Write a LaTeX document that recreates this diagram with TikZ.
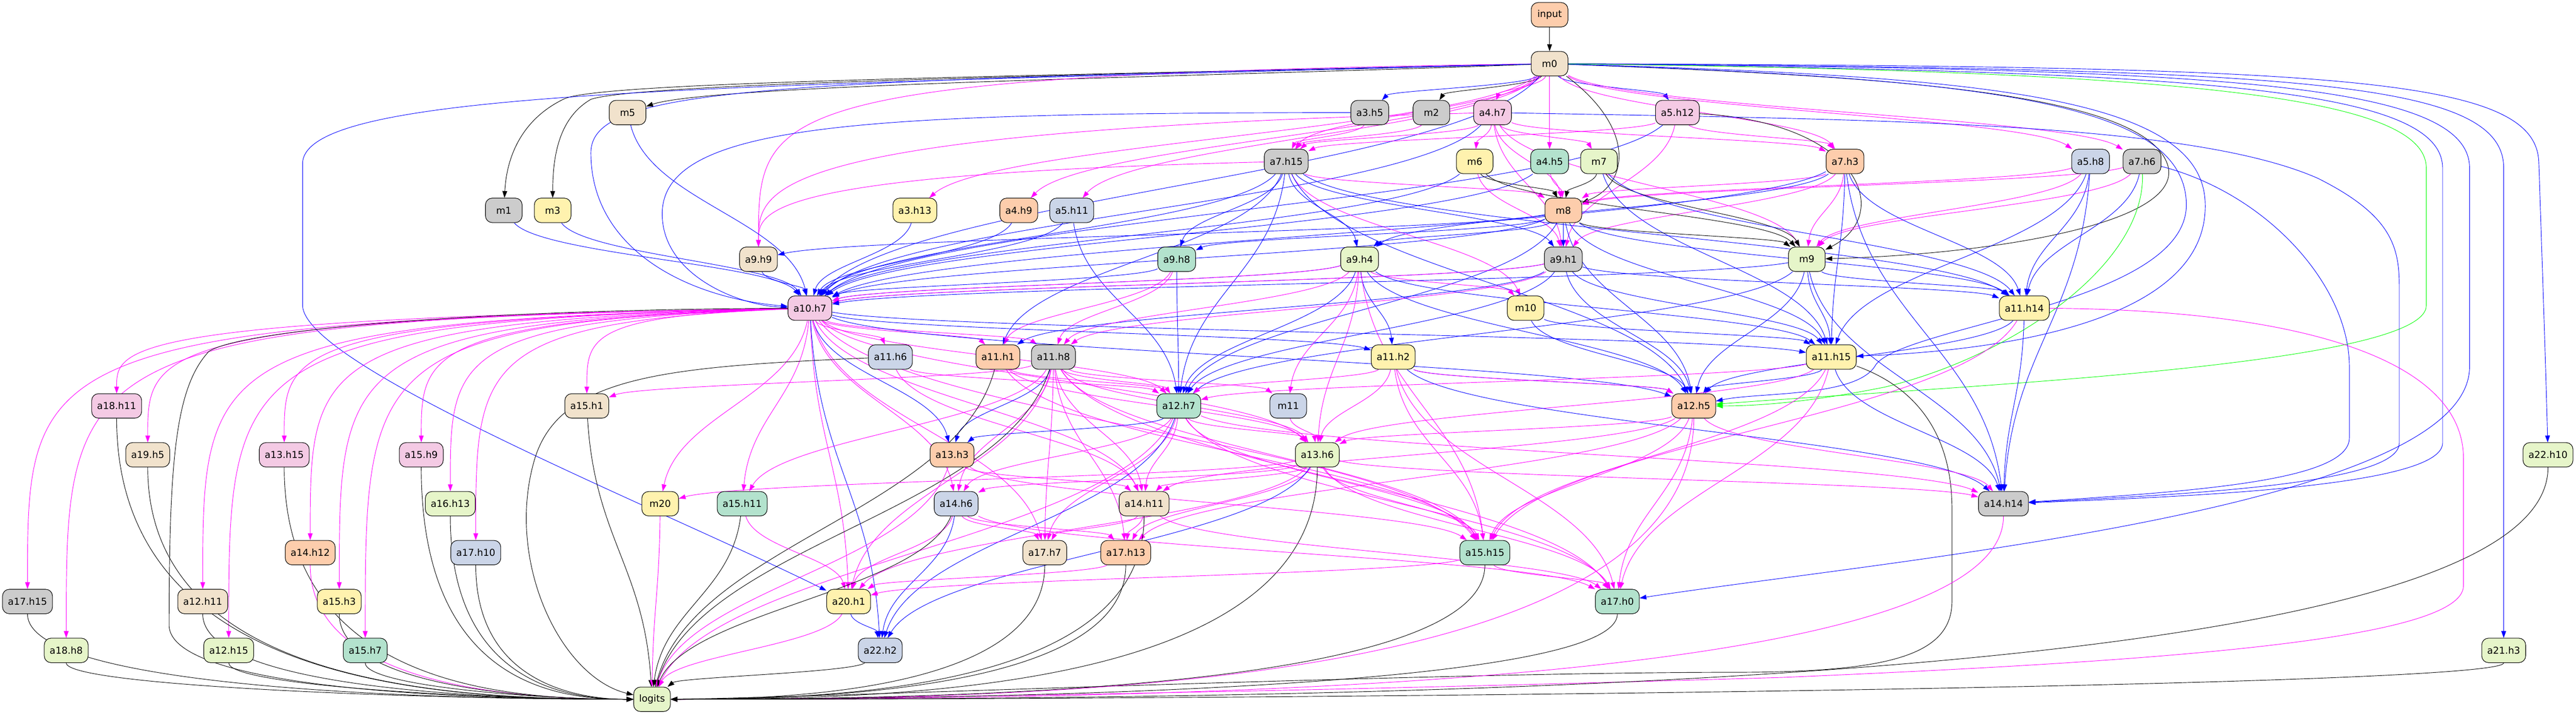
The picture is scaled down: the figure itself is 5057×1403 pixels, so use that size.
\documentclass[tikz,border=0pt]{standalone}
\usepackage{fontspec}
\setmainfont{DejaVu Sans}
\usetikzlibrary{arrows.meta,calc}
\pgfdeclarelayer{edges}
\pgfsetlayers{edges,main}
\definecolor{cA}{HTML}{B3E2CD}
\definecolor{cB}{HTML}{FDCDAC}
\definecolor{cC}{HTML}{CBD5E8}
\definecolor{cD}{HTML}{F4CAE4}
\definecolor{cE}{HTML}{E6F5C9}
\definecolor{cF}{HTML}{FFF2AE}
\definecolor{cG}{HTML}{F1E2CC}
\definecolor{cH}{HTML}{CCCCCC}
\definecolor{eblue}{HTML}{0000FF}
\definecolor{emag}{HTML}{FF00FF}
\definecolor{egreen}{HTML}{00FF00}
\tikzset{
  nd/.style={draw=black,line width=0.8pt,rounded corners=10pt,minimum width=54pt,minimum height=36pt,inner xsep=8pt,inner ysep=2pt,font=\fontsize{14}{17}\selectfont},
  ebase/.style={line width=0.7pt,-{Triangle[length=10pt,width=7pt]}},
  ek/.style={ebase,color=black},
  eb/.style={ebase,color=eblue},
  em/.style={ebase,color=emag},
  eg/.style={ebase,color=egreen}
}
\newcommand\ed[3]{\draw[#1] let \p1=(#2),\p2=(#3) in (#2) .. controls ({\x1+0.12*(\x2-\x1)},{\y1+0.45*(\y2-\y1)}) and ({\x2-0.12*(\x2-\x1)},{\y2-0.45*(\y2-\y1)}) .. (#3);}
\newcommand\edf[4]{\draw[#1] let \p1=(#2),\p2=(#3) in (#2) .. controls (\x2,{\y1-0.1875*#4}) and (\x2,{\y1-0.75*#4}) .. (#3);}
\newcommand\edl[2]{\draw[#1] let \p1=(#2),\p2=(logits) in (#2) .. controls (\x1,{\y2+20}) and ({\x1+0.6*(\x2-\x1)},\y2) .. (logits);}
\begin{document}
\begin{tikzpicture}[x=0.75pt,y=-0.75pt]
\useasboundingbox (0,0) rectangle (5057,1403);
% nodes
\node[nd,fill=cB] (input) at (3042,29) {input};
\node[nd,fill=cG] (m0) at (3042,125) {m0};
\node[nd,fill=cG] (m5) at (1232,221) {m5};
\node[nd,fill=cH] (a3h5) at (2689,221) {a3.h5};
\node[nd,fill=cH] (m2) at (2810,221) {m2};
\node[nd,fill=cD] (a4h7) at (2930,221) {a4.h7};
\node[nd,fill=cD] (a5h12) at (3293,221) {a5.h12};
\node[nd,fill=cH] (a7h15) at (2525,317) {a7.h15};
\node[nd,fill=cF] (m6) at (2895,317) {m6};
\node[nd,fill=cA] (a4h5) at (3042,317) {a4.h5};
\node[nd,fill=cE] (m7) at (3139,317) {m7};
\node[nd,fill=cB] (a7h3) at (3622,317) {a7.h3};
\node[nd,fill=cC] (a5h8) at (4104,317) {a5.h8};
\node[nd,fill=cH] (a7h6) at (4205,317) {a7.h6};
\node[nd,fill=cH] (m1) at (989,413) {m1};
\node[nd,fill=cF] (m3) at (1085,413) {m3};
\node[nd,fill=cF] (a3h13) at (1796,413) {a3.h13};
\node[nd,fill=cB] (a4h9) at (2000,413) {a4.h9};
\node[nd,fill=cC] (a5h11) at (2104,413) {a5.h11};
\node[nd,fill=cB] (m8) at (3069,413) {m8};
\node[nd,fill=cG] (a9h9) at (1489,509) {a9.h9};
\node[nd,fill=cA] (a9h8) at (2310,509) {a9.h8};
\node[nd,fill=cE] (a9h4) at (2669,509) {a9.h4};
\node[nd,fill=cH] (a9h1) at (3069,509) {a9.h1};
\node[nd,fill=cE] (m9) at (3547,509) {m9};
\node[nd,fill=cD] (a10h7) at (1590,605) {a10.h7};
\node[nd,fill=cF] (m10) at (2995,605) {m10};
\node[nd,fill=cF] (a11h14) at (3974,605) {a11.h14};
\node[nd,fill=cC] (a11h6) at (1748,701) {a11.h6};
\node[nd,fill=cB] (a11h1) at (1959,701) {a11.h1};
\node[nd,fill=cH] (a11h8) at (2068,701) {a11.h8};
\node[nd,fill=cF] (a11h2) at (2735,701) {a11.h2};
\node[nd,fill=cF] (a11h15) at (3595,701) {a11.h15};
\node[nd,fill=cD] (a18h11) at (229,797) {a18.h11};
\node[nd,fill=cG] (a15h1) at (1152,797) {a15.h1};
\node[nd,fill=cA] (a12h7) at (2314,797) {a12.h7};
\node[nd,fill=cC] (m11) at (2529,797) {m11};
\node[nd,fill=cB] (a12h5) at (3325,797) {a12.h5};
\node[nd,fill=cG] (a19h5) at (290,893) {a19.h5};
\node[nd,fill=cD] (a13h15) at (558,893) {a13.h15};
\node[nd,fill=cD] (a15h9) at (827,893) {a15.h9};
\node[nd,fill=cB] (a13h3) at (1869,893) {a13.h3};
\node[nd,fill=cE] (a13h6) at (2586,893) {a13.h6};
\node[nd,fill=cE] (a22h10) at (5002,893) {a22.h10};
\node[nd,fill=cE] (a16h13) at (884,989) {a16.h13};
\node[nd,fill=cF] (m20) at (1296,989) {m20};
\node[nd,fill=cA] (a15h11) at (1457,989) {a15.h11};
\node[nd,fill=cC] (a14h6) at (1877,989) {a14.h6};
\node[nd,fill=cG] (a14h11) at (2246,989) {a14.h11};
\node[nd,fill=cH] (a14h14) at (3933,989) {a14.h14};
\node[nd,fill=cB] (a14h12) at (609,1085) {a14.h12};
\node[nd,fill=cC] (a17h10) at (934,1085) {a17.h10};
\node[nd,fill=cG] (a17h7) at (2051,1085) {a17.h7};
\node[nd,fill=cB] (a17h13) at (2210,1085) {a17.h13};
\node[nd,fill=cA] (a15h15) at (2915,1085) {a15.h15};
\node[nd,fill=cH] (a17h15) at (54,1181) {a17.h15};
\node[nd,fill=cG] (a12h11) at (398,1181) {a12.h11};
\node[nd,fill=cF] (a15h3) at (666,1181) {a15.h3};
\node[nd,fill=cF] (a20h1) at (1666,1181) {a20.h1};
\node[nd,fill=cA] (a17h0) at (3175,1181) {a17.h0};
\node[nd,fill=cE] (a18h8) at (130,1277) {a18.h8};
\node[nd,fill=cE] (a12h15) at (449,1277) {a12.h15};
\node[nd,fill=cA] (a15h7) at (717,1277) {a15.h7};
\node[nd,fill=cC] (a22h2) at (1728,1277) {a22.h2};
\node[nd,fill=cE] (a21h3) at (4915,1277) {a21.h3};
\node[nd,fill=cE] (logits) at (1280,1373) {logits};
\begin{pgfonlayer}{edges}
% ---- edges from input / m0
\ed{ek}{input}{m0}
\draw[ek] (m0) .. controls (2400,150) and (1400,165) .. (m5);
\draw[ek] (m0) .. controls (2000,150) and (1200,160) .. (1110,193) .. controls (1030,230) and (995,300) .. (m1);
\draw[ek] (m0) .. controls (2000,150) and (1250,165) .. (1160,195) .. controls (1100,230) and (1085,300) .. (m3);
\ed{ek}{m0}{m2}
\ed{eb}{m0}{a3h5}
\ed{em}{m0}{a4h7}
\ed{eb}{m0}{a5h12}
\ed{em}{m0}{a4h5}
\ed{em}{m0}{a7h15}
\ed{em}{m0}{a3h13}
\ed{em}{m0}{a4h9}
\ed{em}{m0}{a5h11}
\edf{em}{m0}{a9h9}{90}
\ed{em}{m0}{a7h3}
\ed{em}{m0}{a5h8}
\ed{em}{m0}{a7h6}
\ed{eb}{m0}{a10h7}
\draw[ek] (m0) .. controls (3210,250) and (3200,360) .. (m8);
\draw[ek] (m0) .. controls (3700,150) and (4200,180) .. (4254,320) .. controls (4300,440) and (3900,500) .. (m9);
\draw[eb] (m0) .. controls (1500,160) and (1160,170) .. (1160,300) .. controls (1160,490) and (1350,585) .. (a10h7);
\draw[eb] (m0) .. controls (1400,170) and (600,175) .. (594,320) -- (594,600) .. controls (598,720) and (1300,1000) .. (a20h1);
\draw[eb] (m0) .. controls (3900,150) and (4325,190) .. (4329,400) .. controls (4335,640) and (3900,690) .. (a11h15);
\draw[eb] (m0) .. controls (3900,155) and (4288,200) .. (4292,400) .. controls (4296,600) and (3720,640) .. (3680,720) .. controls (3640,780) and (3450,770) .. (a12h5);
\draw[eb] (m0) .. controls (4300,140) and (4795,170) .. (4795,330) -- (4795,870) .. controls (4795,955) and (4300,975) .. (a14h14);
\draw[eb] (m0) .. controls (4350,135) and (4848,160) .. (4848,330) -- (4848,720) .. controls (4848,1000) and (3700,1100) .. (a17h0);
\draw[eb] (m0) .. controls (4500,135) and (4915,155) .. (4915,330) -- (a21h3);
\draw[eb] (m0) .. controls (4600,130) and (4980,150) .. (4984,320) .. controls (4990,500) and (4997,700) .. (a22h10);
\draw[eg] (m0) .. controls (4300,140) and (4763,190) .. (4763,330) -- (4763,600) .. controls (4763,720) and (3800,760) .. (a12h5);
% ---- row 2
\ed{em}{a3h5}{a7h15}
\ed{em}{m2}{a7h15}
\ed{em}{a4h7}{a7h15}
\ed{em}{a5h12}{a7h15}
\draw[eb] (a3h5) .. controls (1700,222) and (1300,240) .. (1300,420) .. controls (1300,540) and (1450,600) .. (a10h7);
\ed{em}{a4h7}{m6}
\ed{em}{a4h7}{m7}
\ed{em}{a4h7}{a7h3}
\ed{em}{a5h12}{a7h3}
\draw[ek] (a5h12) .. controls (3650,240) and (3720,420) .. (m9);
\ed{em}{a4h7}{m8}
\edf{em}{a4h7}{a9h9}{150}
\ed{em}{a4h7}{a9h1}
\ed{em}{a4h7}{m9}
\ed{eb}{a4h7}{a10h7}
\draw[eb] (a4h7) .. controls (3700,235) and (4300,240) .. (4550,350) .. controls (4690,420) and (4710,480) .. (4710,560) -- (4710,870) .. controls (4710,950) and (4300,970) .. (a14h14);
\ed{em}{a5h12}{a9h1}
\ed{eb}{a5h12}{a10h7}
% ---- row 3
\ed{ek}{m6}{m8}
\ed{ek}{m7}{m8}
\ed{em}{a4h5}{m8}
\ed{em}{a7h15}{m8}
\ed{em}{a7h3}{m8}
\ed{em}{a5h8}{m8}
\ed{em}{a7h6}{m8}
\edf{em}{a7h15}{a9h9}{100}
\ed{eb}{a7h15}{a9h8}
\ed{eb}{a7h15}{a9h4}
\ed{eb}{a7h3}{a9h4}
\ed{eb}{a7h15}{a9h1}
\ed{em}{m6}{a9h1}
\ed{em}{a7h3}{a9h1}
\ed{ek}{m6}{m9}
\ed{ek}{m7}{m9}
\ed{em}{a7h3}{m9}
\ed{em}{a5h8}{m9}
\ed{em}{a7h6}{m9}
\ed{eb}{a7h15}{a10h7}
\ed{eb}{m6}{a10h7}
\ed{eb}{a4h5}{a10h7}
\ed{eb}{a7h3}{a10h7}
\ed{em}{a7h15}{m10}
\ed{eb}{a5h8}{a11h14}
\ed{eb}{a7h6}{a11h14}
\ed{eb}{a7h3}{a11h14}
\ed{eb}{a7h15}{a11h14}
\ed{eb}{m7}{a11h14}
\ed{eb}{a7h15}{a11h1}
\ed{eb}{a7h3}{a11h15}
\ed{eb}{m7}{a11h15}
\ed{eb}{a5h8}{a11h15}
\ed{eb}{a7h15}{a12h7}
\ed{eb}{a7h15}{a12h5}
\ed{eb}{a7h3}{a14h14}
\ed{eb}{a5h8}{a14h14}
\draw[eb] (a7h6) .. controls (4450,380) and (4612,560) .. (4612,720) -- (4612,860) .. controls (4612,945) and (4300,965) .. (a14h14);
\draw[eg] (a7h6) .. controls (4212,520) and (3950,700) .. (3700,760) .. controls (3550,790) and (3450,797) .. (a12h5);
% ---- row 4
\ed{eb}{m8}{a9h9}
\ed{eb}{m8}{a9h8}
\ed{eb}{m8}{a9h4}
\ed{eb}{m8}{a9h1}
\ed{ek}{m8}{m9}
\ed{eb}{m1}{a10h7}
\ed{eb}{m3}{a10h7}
\ed{eb}{m5}{a10h7}
\ed{eb}{a3h13}{a10h7}
\ed{eb}{a4h9}{a10h7}
\ed{eb}{a5h11}{a10h7}
\ed{eb}{m8}{a10h7}
\ed{eb}{m8}{a11h14}
\ed{eb}{m8}{a11h15}
\ed{eb}{m8}{a12h7}
\ed{eb}{m8}{a12h5}
\ed{eb}{a5h11}{a12h7}
% ---- row 5
\ed{eb}{a9h9}{a10h7}
\ed{eb}{a9h8}{a10h7}
\ed{eb}{a9h4}{a10h7}
\ed{eb}{a9h1}{a10h7}
\ed{em}{a9h4}{a10h7}
\ed{em}{a9h1}{a10h7}
\ed{eb}{m9}{a10h7}
\ed{em}{a9h4}{m10}
\ed{eb}{m9}{a11h14}
\ed{eb}{a9h1}{a11h14}
\ed{em}{a9h8}{a11h1}
\ed{eb}{a9h1}{a11h1}
\ed{em}{a9h8}{a11h8}
\ed{em}{a9h4}{a11h8}
\ed{em}{a9h1}{a11h8}
\ed{eb}{a9h4}{a11h2}
\ed{eb}{m9}{a11h15}
\ed{eb}{a9h1}{a11h15}
\ed{eb}{a9h4}{a11h15}
\ed{eb}{a9h8}{a12h7}
\ed{eb}{a9h4}{a12h7}
\ed{eb}{a9h1}{a12h7}
\ed{eb}{m9}{a12h7}
\ed{em}{a9h4}{m11}
\ed{eb}{a9h1}{a12h5}
\ed{eb}{m9}{a12h5}
\ed{eb}{a9h4}{a12h5}
\ed{em}{a9h4}{a13h6}
\ed{eb}{m9}{a14h14}
\ed{em}{a9h4}{a15h15}
% ---- row 6
\ed{eb}{m10}{a11h15}
\ed{eb}{m10}{a12h5}
\ed{em}{a10h7}{a11h6}
\ed{em}{a10h7}{a11h1}
\ed{em}{a10h7}{a11h8}
\ed{eb}{a10h7}{a11h2}
\ed{eb}{a10h7}{a11h15}
\edf{em}{a10h7}{a18h11}{80}
\edf{em}{a10h7}{a15h1}{60}
\ed{em}{a10h7}{a12h7}
\ed{eb}{a10h7}{a12h5}
\edf{em}{a10h7}{a19h5}{85}
\edf{em}{a10h7}{a13h15}{90}
\edf{em}{a10h7}{a15h9}{95}
\ed{eb}{a10h7}{a13h3}
\ed{em}{a10h7}{a13h6}
\edf{em}{a10h7}{a16h13}{100}
\ed{em}{a10h7}{m20}
\ed{em}{a10h7}{a15h11}
\ed{em}{a10h7}{a14h6}
\ed{em}{a10h7}{a14h11}
\edf{em}{a10h7}{a14h12}{105}
\edf{em}{a10h7}{a17h10}{110}
\ed{em}{a10h7}{a17h7}
\ed{em}{a10h7}{a15h15}
\edf{em}{a10h7}{a17h15}{100}
\edf{em}{a10h7}{a12h11}{100}
\edf{em}{a10h7}{a15h3}{110}
\ed{em}{a10h7}{a20h1}
\edf{em}{a10h7}{a18h8}{95}
\edf{em}{a10h7}{a12h15}{105}
\edf{em}{a10h7}{a15h7}{115}
\ed{eb}{a10h7}{a22h2}
\draw[ek] (a10h7) .. controls (900,608) and (470,650) .. (410,690) .. controls (345,760) and (332,900) .. (332,1230) .. controls (340,1340) and (800,1373) .. (logits);
\ed{eb}{a11h14}{a12h5}
\ed{eb}{a11h14}{a14h14}
\ed{em}{a11h14}{a15h15}
\draw[em] (a11h14) .. controls (4500,608) and (4836,700) .. (4836,900) -- (4836,1150) .. controls (4836,1260) and (4200,1300) .. (3500,1330) .. controls (2500,1360) and (1600,1373) .. (logits);
% ---- row 7
\ed{em}{a11h8}{a15h1}
\ed{em}{a11h8}{a12h7}
\ed{em}{a11h6}{a12h7}
\ed{em}{a11h2}{a12h7}
\ed{em}{a11h15}{a12h7}
\ed{em}{a11h1}{a12h7}
\ed{em}{a11h8}{m11}
\ed{eb}{a11h2}{a12h5}
\ed{em}{a11h2}{a12h5}
\ed{eb}{a11h15}{a12h5}
\ed{eb}{a11h8}{a13h3}
\ed{em}{a11h2}{a13h6}
\ed{em}{a11h8}{a13h6}
\ed{em}{a11h15}{a13h6}
\ed{em}{a11h1}{a13h6}
\ed{em}{a11h8}{a15h11}
\ed{em}{a11h8}{a14h6}
\ed{em}{a11h6}{a14h11}
\ed{em}{a11h8}{a14h11}
\ed{eb}{a11h15}{a14h14}
\ed{eb}{a11h2}{a14h14}
\ed{em}{a11h8}{a17h7}
\ed{em}{a11h8}{a17h13}
\ed{em}{a11h2}{a15h15}
\ed{em}{a11h8}{a15h15}
\ed{em}{a11h1}{a15h15}
\ed{em}{a11h15}{a15h15}
\ed{em}{a11h8}{a20h1}
\ed{em}{a11h15}{a17h0}
\ed{em}{a11h8}{a17h0}
\ed{em}{a11h2}{a17h0}
\draw[ek] (a11h6) .. controls (1300,720) and (1100,740) .. (1050,900) .. controls (990,1100) and (1100,1330) .. (logits);
\ed{ek}{a11h1}{logits}
\ed{ek}{a11h8}{logits}
\draw[ek] (a11h15) .. controls (3760,760) and (3832,850) .. (3832,1000) -- (3832,1180) .. controls (3832,1290) and (3700,1320) .. (3400,1320) .. controls (2800,1320) and (1600,1370) .. (logits);
% ---- row 8
\ed{eb}{a12h7}{a13h3}
\ed{em}{m11}{a13h6}
\ed{em}{a12h7}{a13h6}
\ed{em}{a12h5}{a13h6}
\ed{em}{a12h7}{a14h6}
\ed{em}{a12h7}{a14h11}
\ed{em}{a12h5}{a14h11}
\ed{em}{a12h5}{a14h14}
\ed{em}{a12h7}{a14h14}
\ed{em}{a12h7}{a17h7}
\ed{em}{a12h5}{a17h13}
\ed{em}{a12h7}{a15h15}
\ed{em}{a12h5}{a15h15}
\ed{em}{a12h5}{a17h0}
\ed{em}{a12h7}{a17h0}
\ed{eb}{a12h7}{a22h2}
\edl{ek}{a18h11}
\ed{ek}{a15h1}{logits}
\edl{em}{a12h5}
\ed{em}{a12h7}{logits}
% ---- row 9
\edl{ek}{a19h5}
\edl{ek}{a13h15}
\edl{ek}{a15h9}
\ed{em}{a13h6}{m20}
\ed{em}{a13h6}{a14h6}
\ed{em}{a13h6}{a14h11}
\ed{em}{a13h3}{a14h11}
\ed{em}{a13h6}{a14h14}
\ed{em}{a13h6}{a17h13}
\ed{em}{a13h6}{a15h15}
\ed{em}{a13h3}{a15h15}
\ed{em}{a13h6}{a20h1}
\ed{em}{a13h6}{a17h0}
\ed{eb}{a13h6}{a22h2}
\ed{em}{a13h3}{logits}
\edl{ek}{a13h6}
\edl{ek}{a22h10}
% ---- row 10
\edl{ek}{a16h13}
\ed{em}{m20}{logits}
\ed{em}{a15h11}{a20h1}
\ed{ek}{a15h11}{logits}
\ed{em}{a14h6}{a17h7}
\ed{em}{a14h6}{a17h13}
\ed{em}{a14h6}{a20h1}
\ed{em}{a14h6}{a17h0}
\ed{eb}{a14h6}{a22h2}
\ed{ek}{a14h6}{logits}
\ed{em}{a14h11}{a17h7}
\ed{em}{a14h11}{a17h13}
\ed{em}{a14h11}{a17h0}
\edl{ek}{a14h11}
\edl{em}{a14h14}
% ---- row 11
\edl{em}{a14h12}
\edl{ek}{a17h10}
\edl{ek}{a17h7}
\ed{em}{a17h13}{a20h1}
\edl{ek}{a17h13}
\ed{em}{a15h15}{a20h1}
\ed{em}{a15h15}{a17h0}
\edl{ek}{a15h15}
% ---- row 12
\edl{ek}{a17h15}
\edl{ek}{a12h11}
\edl{ek}{a15h3}
\ed{eb}{a20h1}{a22h2}
\ed{em}{a20h1}{logits}
\edl{ek}{a17h0}
% ---- row 13
\edl{ek}{a18h8}
\edl{ek}{a12h15}
\edl{ek}{a15h7}
\ed{ek}{a22h2}{logits}
\edl{ek}{a21h3}
\end{pgfonlayer}
\end{tikzpicture}
\end{document}
